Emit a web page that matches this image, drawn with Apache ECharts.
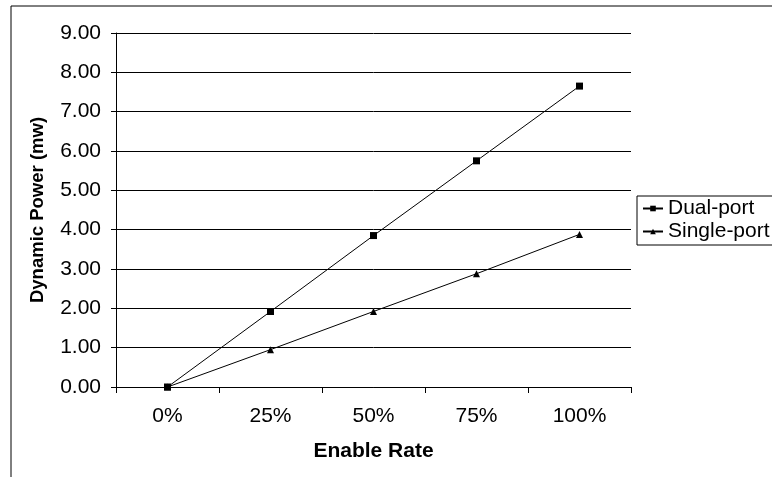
<!DOCTYPE html>
<html>
<head>
<meta charset="utf-8">
<script src="https://cdn.jsdelivr.net/npm/echarts@6/dist/echarts.min.js"></script>
<style>
html,body{margin:0;padding:0;background:#fff;}
#chart{width:772px;height:477px;}
</style>
</head>
<body>
<div id="chart"></div>
<script>
const categories = ['0%', '25%', '50%', '75%', '100%'];
const dualPort = [0.00, 1.92, 3.85, 5.75, 7.65];
const singlePort = [0.00, 0.95, 1.92, 2.88, 3.88];
const seriesNames = ['Dual-port', 'Single-port'];

const chart = echarts.init(document.getElementById('chart'));
const font = 'Liberation Sans, Arial, sans-serif';
chart.setOption({
  backgroundColor: '#fff',
  animation: false,
  graphic: [{
    type: 'rect',
    shape: {x: 11, y: 6, width: 900, height: 600},
    style: {fill: 'none', stroke: '#000', lineWidth: 1},
    silent: true
  }],
  grid: {left: 116, right: 141, top: 33, bottom: 90},
  legend: {
    orient: 'vertical',
    left: 637,
    top: 196,
    itemWidth: 20,
    itemHeight: 7,
    itemGap: 2,
    padding: [2, 6, 3, 5],
    borderColor: '#000',
    borderWidth: 1,
    textStyle: {fontFamily: font, fontSize: 21, color: '#000'},
    data: seriesNames
  },
  xAxis: {
    type: 'category',
    data: categories,
    boundaryGap: true,
    name: 'Enable Rate',
    nameLocation: 'middle',
    nameGap: 54,
    nameTextStyle: {fontFamily: font, fontSize: 21, fontWeight: 'bold', color: '#000'},
    axisLine: {lineStyle: {color: '#000', width: 1}},
    axisTick: {show: true, alignWithLabel: false, length: 6, inside: false, lineStyle: {color: '#000'}},
    axisLabel: {fontFamily: font, fontSize: 21, color: '#000', margin: 19},
    splitLine: {show: false}
  },
  yAxis: {
    type: 'value',
    min: 0,
    max: 9,
    interval: 1,
    name: 'Dynamic Power (mw)',
    nameLocation: 'middle',
    nameGap: 69,
    nameRotate: 90,
    nameTextStyle: {fontFamily: font, fontSize: 18.5, fontWeight: 'bold', color: '#000'},
    axisLine: {show: true, lineStyle: {color: '#000', width: 1}},
    axisTick: {show: true, length: 5, lineStyle: {color: '#000'}},
    axisLabel: {fontFamily: font, fontSize: 21, color: '#000', margin: 15,
      formatter: v => v.toFixed(2)},
    splitLine: {show: true, lineStyle: {color: '#000', width: 1}}
  },
  series: [{
    name: seriesNames[0],
    type: 'line',
    data: dualPort,
    symbol: 'rect',
    symbolSize: 7,
    lineStyle: {color: '#000', width: 1},
    itemStyle: {color: '#000'}
  }, {
    name: seriesNames[1],
    type: 'line',
    data: singlePort,
    symbol: 'triangle',
    symbolSize: 7,
    lineStyle: {color: '#000', width: 1},
    itemStyle: {color: '#000'}
  }]
});
</script>
</body>
</html>
